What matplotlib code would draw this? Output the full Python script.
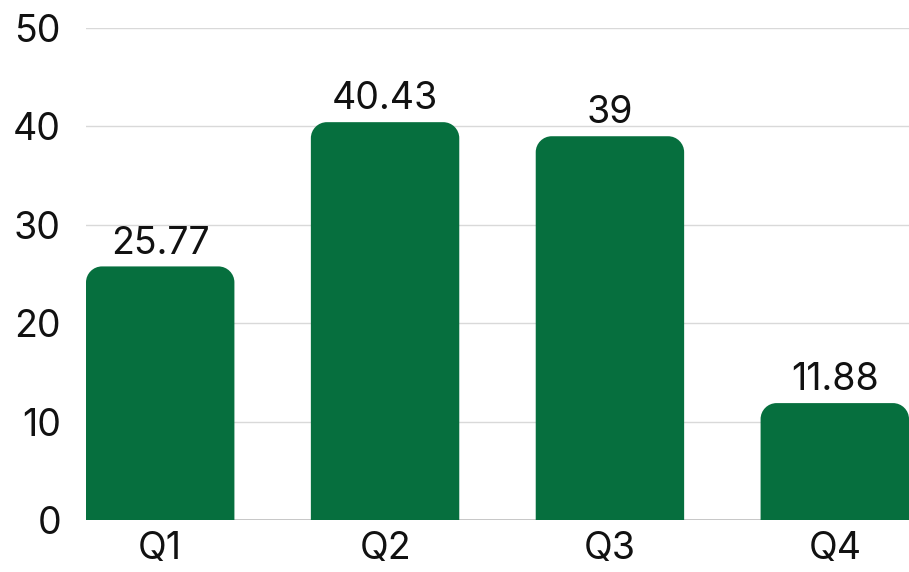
import numpy as np
import matplotlib
matplotlib.use('Agg')
import matplotlib.pyplot as plt
from matplotlib.path import Path
from matplotlib.patches import PathPatch

quarters = ['Q1', 'Q2', 'Q3', 'Q4']
values = [25.77, 40.43, 39, 11.88]
labels = ['25.77', '40.43', '39', '11.88']
yticks = [0, 10, 20, 30, 40, 50]

plt.rcParams['font.family'] = ['Inter', 'DejaVu Sans']

W, H = 909, 572
fig = plt.figure(figsize=(W / 100, H / 100), dpi=100)
ax = fig.add_axes([86 / W, 52 / H, (909 - 86) / W, (520 - 28) / H])

xlo, xhi = -0.33, 3.33
ylo, yhi = 0, 50
ax.set_xlim(xlo, xhi)
ax.set_ylim(ylo, yhi)

# pixel scales, used to keep the rounded corners circular
ax_w = (909 - 86)
ax_h = (520 - 28)
sx = ax_w / (xhi - xlo)
sy = ax_h / (yhi - ylo)

color = '#066f3e'
width = 0.66
r_px = 16
k = 0.5523
fs = 27

for i, v in enumerate(values):
    x0, x1 = i - width / 2, i + width / 2
    rx, ry = r_px / sx, r_px / sy
    verts = [
        (x0, 0), (x0, v - ry),
        (x0, v - ry + k * ry), (x0 + rx - k * rx, v), (x0 + rx, v),
        (x1 - rx, v),
        (x1 - rx + k * rx, v), (x1, v - ry + k * ry), (x1, v - ry),
        (x1, 0), (x0, 0),
    ]
    codes = [Path.MOVETO, Path.LINETO,
             Path.CURVE4, Path.CURVE4, Path.CURVE4,
             Path.LINETO,
             Path.CURVE4, Path.CURVE4, Path.CURVE4,
             Path.LINETO, Path.CLOSEPOLY]
    ax.add_patch(PathPatch(Path(verts, codes), facecolor=color, edgecolor='none', zorder=3))
    ax.text(i, v + 0.5, labels[i], ha='center', va='bottom', fontsize=fs, color='#111111', zorder=4)

ax.set_yticks(yticks)
ax.set_xticks(range(len(quarters)))
ax.set_xticklabels(quarters)
ax.tick_params(axis='both', length=0, labelsize=fs, colors='#111111')
ax.tick_params(axis='y', pad=18)
ax.tick_params(axis='x', pad=8)

ax.grid(axis='y', color='#d9d9d9', linewidth=1, zorder=0)
ax.set_axisbelow(True)
for s in ax.spines.values():
    s.set_visible(False)
ax.axhline(0, color='#bfbfbf', linewidth=1.2, zorder=2)

fig.savefig('out.png', dpi=100)
